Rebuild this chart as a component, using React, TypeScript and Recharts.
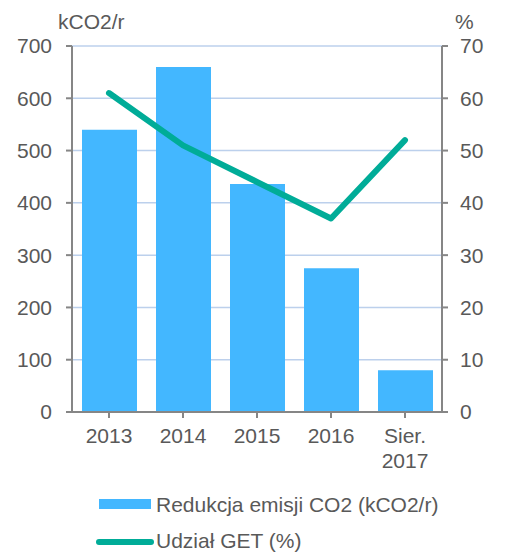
import React from 'react';
import { ComposedChart, Bar, Line, XAxis, YAxis, CartesianGrid } from 'recharts';

const categories = ['2013', '2014', '2015', '2016', 'Sier. 2017'];
const reduction = [540, 660, 436, 275, 80];
const share = [61, 51, 44, 37, 52];
const leftTicks = [0, 100, 200, 300, 400, 500, 600, 700];
const rightTicks = [0, 10, 20, 30, 40, 50, 60, 70];

const data = categories.map((c, i) => ({ cat: c, co2: reduction[i], get: share[i] }));

const FONT = '"Liberation Sans", Arial, sans-serif';
const TXT = '#595959';
const AXIS = '#868686';
const BAR = '#43B7FF';
const LINE = '#00AC98';
const FS = 21;

const XTick = (props: any) => {
  const { x, y, payload } = props;
  const parts = String(payload.value).split(' ');
  return (
    <text x={x} y={y} textAnchor="middle" fill={TXT} fontSize={FS} fontFamily={FONT}>
      {parts.map((p, i) => (
        <tspan key={i} x={x} dy={i === 0 ? '0.71em' : 25}>{p}</tspan>
      ))}
    </text>
  );
};

export default function App() {
  return (
    <div style={{ position: 'relative', width: 500, height: 544, fontFamily: FONT, color: TXT }}>
      <ComposedChart width={500} height={544} data={data} margin={{ top: 38, right: 10, left: 10, bottom: 80 }}>
        <CartesianGrid yAxisId="left" vertical={false} stroke="#BCD0EC" strokeWidth={1.5} />
        <XAxis
          dataKey="cat"
          height={60}
          tick={<XTick />}
          tickMargin={10}
          axisLine={{ stroke: AXIS, strokeWidth: 2 }}
          tickLine={{ stroke: AXIS, strokeWidth: 2 }}
          interval={0}
        />
        <YAxis
          yAxisId="left"
          width={54}
          domain={[0, 700]}
          ticks={leftTicks}
          tickMargin={14}
          tick={{ fill: TXT, fontSize: FS, fontFamily: FONT }}
          axisLine={{ stroke: AXIS, strokeWidth: 2 }}
          tickLine={{ stroke: AXIS, strokeWidth: 2 }}
        />
        <YAxis
          yAxisId="right"
          orientation="right"
          width={56}
          domain={[0, 70]}
          ticks={rightTicks}
          tickMargin={12}
          tick={{ fill: TXT, fontSize: FS, fontFamily: FONT, textAnchor: 'start' }}
          axisLine={{ stroke: AXIS, strokeWidth: 2 }}
          tickLine={{ stroke: AXIS, strokeWidth: 2 }}
        />
        <Bar yAxisId="left" dataKey="co2" fill={BAR} barSize={55} isAnimationActive={false} />
        <Line
          yAxisId="right"
          dataKey="get"
          stroke={LINE}
          strokeWidth={6}
          strokeLinecap="round"
          strokeLinejoin="round"
          dot={false}
          activeDot={false}
          type="linear"
          isAnimationActive={false}
        />
      </ComposedChart>

      <div style={{ position: 'absolute', left: 50, top: 2, fontSize: FS, lineHeight: '24px' }}>kCO2/r</div>
      <div style={{ position: 'absolute', left: 447, top: 2, fontSize: FS, lineHeight: '24px' }}>%</div>

      <svg style={{ position: 'absolute', left: 91, top: 491 }} width={52} height={10}>
        <rect x={0} y={0} width={52} height={10} fill={BAR} />
      </svg>
      <div style={{ position: 'absolute', left: 148, top: 485, fontSize: FS, lineHeight: '24px', whiteSpace: 'nowrap' }}>
        Redukcja emisji CO2 (kCO2/r)
      </div>
      <svg style={{ position: 'absolute', left: 88, top: 530 }} width={58} height={8}>
        <line x1={3} y1={4} x2={55} y2={4} stroke={LINE} strokeWidth={6} strokeLinecap="round" />
      </svg>
      <div style={{ position: 'absolute', left: 148, top: 521, fontSize: FS, lineHeight: '24px', whiteSpace: 'nowrap' }}>
        Udział GET (%)
      </div>
    </div>
  );
}
